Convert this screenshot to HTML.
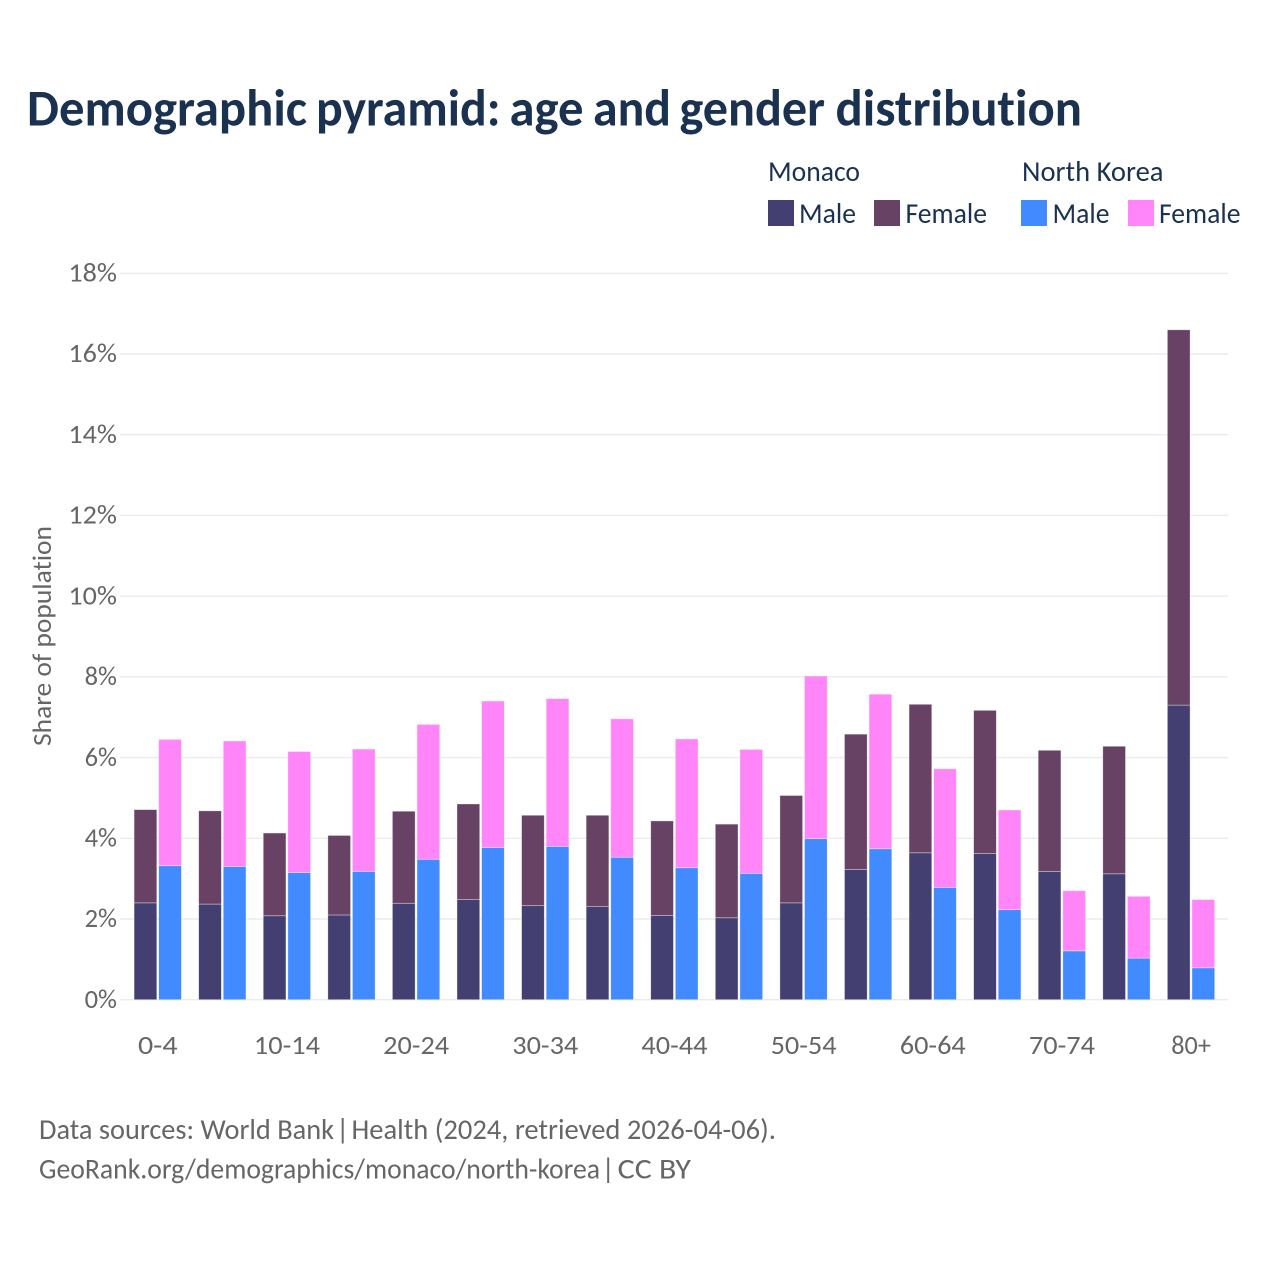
<!DOCTYPE html>
<html lang="en">
<head>
<meta charset="utf-8">
<title>Demographic pyramid: age and gender distribution</title>
<style>
  html, body { margin: 0; padding: 0; background: #ffffff; }
  svg { display: block; font-family: "Carlito", "Lato", "Liberation Sans", sans-serif; font-variant-ligatures: none; }
  .axis-text { fill: #666666; font-size: 26.8px; }
  .legend-text { fill: #1a3150; font-size: 29px; }
  .foot-text { fill: #666666; font-size: 29px; }
</style>
</head>
<body>
<svg id="chart" xmlns="http://www.w3.org/2000/svg" width="1280" height="1280" viewBox="0 0 1280 1280">
  <rect x="0" y="0" width="1280" height="1280" fill="#ffffff"/>
  <text y="125.5" fill="#1a3150" font-size="51.5" font-weight="700"><tspan x="27" textLength="280" lengthAdjust="spacingAndGlyphs">Demographic</tspan> <tspan x="316" textLength="184.5" lengthAdjust="spacingAndGlyphs">pyramid:</tspan> <tspan x="509.5" textLength="74" lengthAdjust="spacingAndGlyphs">age</tspan> <tspan x="593" textLength="78" lengthAdjust="spacingAndGlyphs">and</tspan> <tspan x="679.5" textLength="145.5" lengthAdjust="spacingAndGlyphs">gender</tspan> <tspan x="835.5" textLength="246.5" lengthAdjust="spacingAndGlyphs">distribution</tspan></text>

  <g>
    <text class="legend-text" x="768" y="181.2" textLength="92" lengthAdjust="spacingAndGlyphs">Monaco</text>
    <text class="legend-text" x="1022" y="181.2" textLength="141.5" lengthAdjust="spacingAndGlyphs">North Korea</text>
    <rect x="768" y="200" width="26" height="26" fill="#433f71"/>
    <text class="legend-text" x="799" y="223.2" textLength="57" lengthAdjust="spacingAndGlyphs">Male</text>
    <rect x="874" y="200" width="26" height="26" fill="#684264"/>
    <text class="legend-text" x="905.5" y="223.2" textLength="81.5" lengthAdjust="spacingAndGlyphs">Female</text>
    <rect x="1021" y="200" width="26" height="26" fill="#418aff"/>
    <text class="legend-text" x="1052.5" y="223.2" textLength="57" lengthAdjust="spacingAndGlyphs">Male</text>
    <rect x="1128" y="200" width="26" height="26" fill="#ff85f8"/>
    <text class="legend-text" x="1159" y="223.2" textLength="81.5" lengthAdjust="spacingAndGlyphs">Female</text>
  </g>

  <g id="grid"></g>
  <g id="y-ticks"></g>
  <g id="bars"></g>
  <g id="x-ticks"></g>

  <text class="axis-text" transform="translate(50.8 636) rotate(-90)" text-anchor="middle" textLength="220" lengthAdjust="spacingAndGlyphs">Share of population</text>

  <text class="foot-text" y="1139.2"><tspan x="39" textLength="295" lengthAdjust="spacingAndGlyphs">Data sources: World Bank</tspan> <tspan x="336">|</tspan> <tspan x="351.5" textLength="424.5" lengthAdjust="spacingAndGlyphs">Health (2024, retrieved 2026-04-06).</tspan></text>
  <text class="foot-text" y="1178.7"><tspan x="39" textLength="561" lengthAdjust="spacingAndGlyphs">GeoRank.org/demographics/monaco/north-korea</tspan> <tspan x="601.5">|</tspan> <tspan x="617.7" textLength="73.3" lengthAdjust="spacingAndGlyphs">CC BY</tspan></text>
</svg>
<script>
const categories = ['0-4','5-9','10-14','15-19','20-24','25-29','30-34','35-39','40-44','45-49','50-54','55-59','60-64','65-69','70-74','75-79','80+'];
const monacoMale = [2.40,2.37,2.08,2.10,2.39,2.48,2.33,2.31,2.09,2.03,2.40,3.23,3.64,3.62,3.18,3.12,7.30];
const monacoFemale = [2.31,2.31,2.05,1.97,2.28,2.37,2.24,2.26,2.34,2.32,2.66,3.35,3.68,3.55,3.00,3.16,9.30];
const northKoreaMale = [3.32,3.30,3.15,3.18,3.48,3.77,3.80,3.53,3.27,3.13,3.99,3.74,2.78,2.23,1.21,1.03,0.79];
const northKoreaFemale = [3.13,3.11,3.00,3.03,3.34,3.63,3.66,3.43,3.19,3.07,4.03,3.83,2.94,2.47,1.49,1.53,1.69];
const yTickValues = [0,2,4,6,8,10,12,14,16,18];

const NS = 'http://www.w3.org/2000/svg';
const plotLeft = 120, plotRight = 1228, yZero = 999.7, yTop = 273.3, yMax = 18;
const firstBandLeft = 125.7, bandStep = 64.58, barWidth = 22.7, barGap = 24.6, barInset = 8.4;

function yScale(v) { return yZero - (v / yMax) * (yZero - yTop); }
function xBand(i) { return firstBandLeft + i * bandStep; }

function make(tag, attrs, parent) {
  const el = document.createElementNS(NS, tag);
  for (const k in attrs) el.setAttribute(k, attrs[k]);
  parent.appendChild(el);
  return el;
}

const gridG = document.getElementById('grid');
const yTickG = document.getElementById('y-ticks');
yTickValues.forEach(function (v) {
  const line = make('line', { x1: plotLeft, x2: plotRight, y1: yScale(v), y2: yScale(v), stroke: '#ebebeb', 'stroke-width': 1.4 }, gridG);
  
  
  const label = String(v) + '%';
  const t = make('text', { x: 117 - label.length * 16.2, y: yScale(v) + 8.2, class: 'axis-text', textLength: label.length * 16.2, lengthAdjust: 'spacingAndGlyphs' }, yTickG);
  t.textContent = label;
  
  
});

const barsG = document.getElementById('bars');
function drawBar(x, base, value, color, name) {
  const top = yScale(base + value);
  const r = make('rect', { x: x, y: top, width: barWidth, height: yScale(base) - top, fill: color, stroke: '#ffffff', 'stroke-opacity': 0.5, 'stroke-width': 0.7 }, barsG);
  
  
}
categories.forEach(function (cat, i) {
  const left = xBand(i) + barInset;
  drawBar(left, 0, monacoMale[i], '#433f71', 'bar-monaco-male');
  drawBar(left, monacoMale[i], monacoFemale[i], '#684264', 'bar-monaco-female');
  drawBar(left + barGap, 0, northKoreaMale[i], '#418aff', 'bar-north-korea-male');
  drawBar(left + barGap, northKoreaMale[i], northKoreaFemale[i], '#ff85f8', 'bar-north-korea-female');
});

const xTickG = document.getElementById('x-ticks');
categories.forEach(function (cat, i) {
  if (i % 2 !== 0) return;
  const w = cat.length * 13.2;
  const t = make('text', { x: xBand(i) + bandStep / 2 - 0.2 - w / 2, y: 1054.2, class: 'axis-text', textLength: w, lengthAdjust: 'spacingAndGlyphs' }, xTickG);
  t.textContent = cat;
  
  
});
</script>
</body>
</html>
